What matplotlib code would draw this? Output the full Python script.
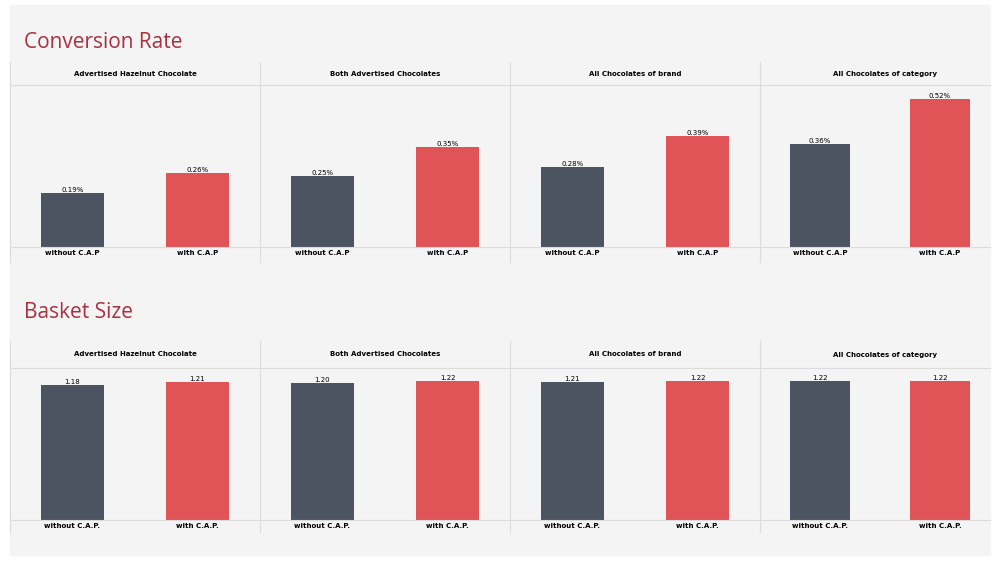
import matplotlib.pyplot as plt
from matplotlib.lines import Line2D
from matplotlib.patches import Rectangle

panels = ['Advertised Hazelnut Chocolate', 'Both Advertised Chocolates',
          'All Chocolates of brand', 'All Chocolates of category']
conv_without = [0.19, 0.25, 0.28, 0.36]
conv_with = [0.26, 0.35, 0.39, 0.52]
basket_without = [1.18, 1.20, 1.21, 1.22]
basket_with = [1.21, 1.22, 1.22, 1.22]
conv_labels = ['without C.A.P', 'with C.A.P']
basket_labels = ['without C.A.P.', 'with C.A.P.']

W, H = 1000, 563
DARK = '#4d5461'
RED = '#e05356'
TITLE = '#a8303f'
GRID = '#dcdcdc'

fig = plt.figure(figsize=(W / 100, H / 100), dpi=100)
fig.patches.append(Rectangle((10 / W, 1 - 555 / H), 980 / W, 550 / H,
                             transform=fig.transFigure, color='#f4f4f4', zorder=-5))

def fx(x):
    return x / W

def fy(y):
    return 1 - y / H

def section(title, title_y, top, head, base, bottom, a, b, labels, ymax, fmt):
    fig.text(fx(24), fy(title_y), title, fontsize=15, color=TITLE,
             family='Open Sans', va='center')
    edges = [10, 260, 510, 760, 990]
    for x in edges[:-1] + [990]:
        if x in (10, 990):
            continue
        fig.add_artist(Line2D([fx(x)] * 2, [fy(top), fy(bottom)], color=GRID, lw=0.8))
    fig.add_artist(Line2D([fx(10)] * 2, [fy(top), fy(bottom)], color=GRID, lw=0.8))
    for y in (head, base):
        fig.add_artist(Line2D([fx(10), fx(990)], [fy(y)] * 2, color=GRID, lw=0.8))
    for i, name in enumerate(panels):
        x0, x1 = edges[i], edges[i + 1]
        if i == 3:
            x1 = 1000
        fig.text(fx((x0 + x1) / 2 if i < 3 else (x0 + 1010) / 2), fy((top + head) / 2), name,
                 fontsize=5, fontweight='bold', ha='center', va='center')
        ax = fig.add_axes([fx(x0), fy(base), fx(x1 - x0), (base - head) / H])
        ax.set_xlim(-0.5, 1.5)
        ax.set_ylim(0, ymax)
        ax.axis('off')
        vals = [a[i], b[i]]
        bars = ax.bar([0, 1], vals, width=0.5, color=[DARK, RED])
        for bar, v in zip(bars, vals):
            ax.text(bar.get_x() + bar.get_width() / 2, v, fmt(v), fontsize=5,
                    ha='center', va='bottom')
        for k, lab in enumerate(labels):
            ax.text(k, -0.02 * ymax, lab, fontsize=5, fontweight='bold',
                    ha='center', va='top')

section('Conversion Rate', 42, 62, 85, 247, 262, conv_without, conv_with,
        conv_labels, 0.568, lambda v: f'{v:.2f}%')
section('Basket Size', 313, 341, 368, 520, 532, basket_without, basket_with,
        basket_labels, 1.333, lambda v: f'{v:.2f}')

fig.savefig('out.png', dpi=100)
